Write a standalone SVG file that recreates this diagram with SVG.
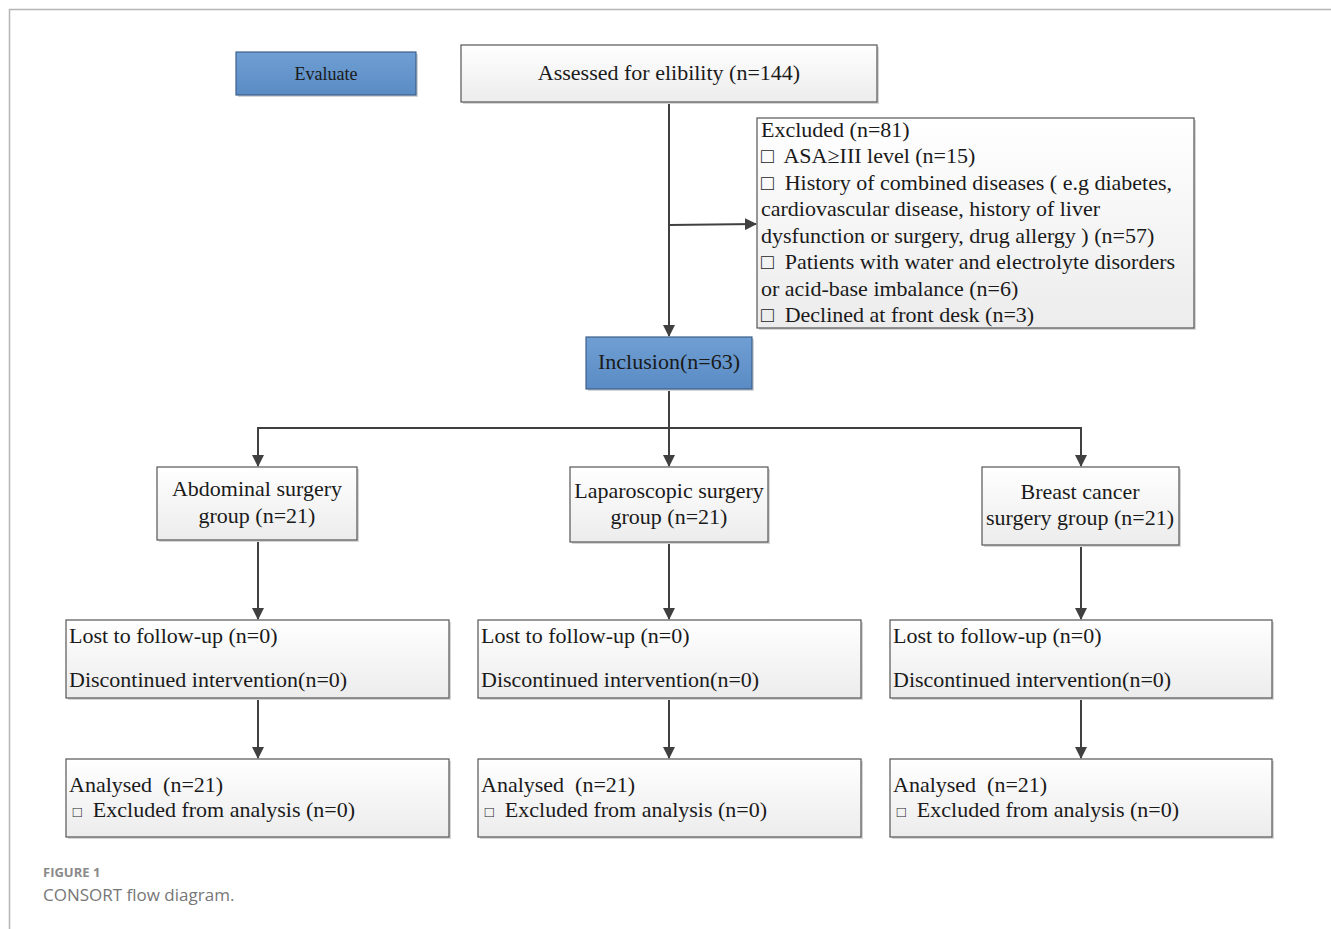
<svg xmlns="http://www.w3.org/2000/svg" width="1331" height="929" viewBox="0 0 1331 929">
<defs>
<linearGradient id="gw" x1="0" y1="0" x2="0" y2="1"><stop offset="0" stop-color="#ffffff"/><stop offset="1" stop-color="#ececec"/></linearGradient>
<linearGradient id="gb" x1="0" y1="0" x2="0" y2="1"><stop offset="0" stop-color="#6f9fd3"/><stop offset="1" stop-color="#5a8bc4"/></linearGradient>
<marker id="ah" markerWidth="12" markerHeight="12" refX="11" refY="6" orient="auto" markerUnits="userSpaceOnUse"><path d="M0,0 L12,6 L0,12 z" fill="#404040"/></marker>
</defs>
<style>
.box{fill:url(#gw);stroke:#555;stroke-width:1.2}
.blue{fill:url(#gb);stroke:#3d5f8a;stroke-width:1.2}
.sh{fill:#d6d6d6}
.t{font-family:"Liberation Serif","Times New Roman",serif;font-size:22px;fill:#1a1a1a;white-space:pre}
.c{text-anchor:middle}
.ln{stroke:#404040;stroke-width:2;fill:none}
.cap{font-family:"Open Sans","Liberation Sans",sans-serif;fill:#777}
.sq{font-size:21px}
.sq2{font-size:15px}
</style>
<rect width="1331" height="929" fill="#fff"/>
<path d="M9.5,929 V9.5 H1331" fill="none" stroke="#b5b5b5" stroke-width="1.5"/>

<g id="connectors">
<line class="ln" x1="669" y1="102" x2="669" y2="336" marker-end="url(#ah)"/>
<line class="ln" x1="669" y1="225" x2="756" y2="224" marker-end="url(#ah)"/>
<polyline class="ln" points="669,389 669,428"/>
<polyline class="ln" points="258,466 258,428 1081,428 1081,466" marker-end="url(#ah)"/>
<line class="ln" x1="258" y1="428" x2="258" y2="466" marker-end="url(#ah)"/>
<line class="ln" x1="669" y1="428" x2="669" y2="466" marker-end="url(#ah)"/>
<line class="ln" x1="258" y1="540" x2="258" y2="619" marker-end="url(#ah)"/>
<line class="ln" x1="669" y1="542" x2="669" y2="619" marker-end="url(#ah)"/>
<line class="ln" x1="1081" y1="545" x2="1081" y2="619" marker-end="url(#ah)"/>
<line class="ln" x1="258" y1="698" x2="258" y2="758" marker-end="url(#ah)"/>
<line class="ln" x1="669" y1="698" x2="669" y2="758" marker-end="url(#ah)"/>
<line class="ln" x1="1081" y1="698" x2="1081" y2="758" marker-end="url(#ah)"/>
</g>

<g id="evaluate">
<rect class="sh" x="238" y="54" width="180" height="43"/>
<rect class="blue" x="236" y="52" width="180" height="43"/>
<text class="t c" x="326" y="80" style="font-size:18px">Evaluate</text>
</g>

<g id="assessed">
<rect class="sh" x="463" y="47" width="416" height="57"/>
<rect class="box" x="461" y="45" width="416" height="57"/>
<text class="t c" x="669" y="80">Assessed for elibility (n=144)</text>
</g>

<g id="excluded">
<rect class="sh" x="759" y="120" width="437" height="210"/>
<rect class="box" x="757" y="118" width="437" height="210"/>
<text class="t" x="761" y="137">Excluded (n=81)</text>
<text class="t" x="761" y="163"><tspan class="sq">□</tspan>  ASA≥III level (n=15)</text>
<text class="t" x="761" y="190"><tspan class="sq">□</tspan>  History of combined diseases ( e.g diabetes,</text>
<text class="t" x="761" y="216">cardiovascular disease, history of liver</text>
<text class="t" x="761" y="243">dysfunction or surgery, drug allergy ) (n=57)</text>
<text class="t" x="761" y="269"><tspan class="sq">□</tspan>  Patients with water and electrolyte disorders</text>
<text class="t" x="761" y="296">or acid-base imbalance (n=6)</text>
<text class="t" x="761" y="322"><tspan class="sq">□</tspan>  Declined at front desk (n=3)</text>
</g>

<g id="inclusion">
<rect class="sh" x="588" y="339" width="166" height="52"/>
<rect class="blue" x="586" y="337" width="166" height="52"/>
<text class="t c" x="669" y="369">Inclusion(n=63)</text>
</g>

<g id="abdominal">
<rect class="sh" x="159" y="469" width="200" height="73"/>
<rect class="box" x="157" y="467" width="200" height="73"/>
<text class="t c" x="257" y="496">Abdominal surgery</text>
<text class="t c" x="257" y="523">group (n=21)</text>
</g>

<g id="laparoscopic">
<rect class="sh" x="572" y="469" width="198" height="75"/>
<rect class="box" x="570" y="467" width="198" height="75"/>
<text class="t c" x="669" y="498">Laparoscopic surgery</text>
<text class="t c" x="669" y="524">group (n=21)</text>
</g>

<g id="breast">
<rect class="sh" x="984" y="469" width="197" height="78"/>
<rect class="box" x="982" y="467" width="197" height="78"/>
<text class="t c" x="1080" y="499">Breast cancer</text>
<text class="t c" x="1080" y="525">surgery group (n=21)</text>
</g>

<g id="lost1">
<rect class="sh" x="68" y="622" width="383" height="78"/>
<rect class="box" x="66" y="620" width="383" height="78"/>
<text class="t" x="69" y="643">Lost to follow-up (n=0)</text>
<text class="t" x="69" y="687">Discontinued intervention(n=0)</text>
</g>
<g id="lost2">
<rect class="sh" x="480" y="622" width="383" height="78"/>
<rect class="box" x="478" y="620" width="383" height="78"/>
<text class="t" x="481" y="643">Lost to follow-up (n=0)</text>
<text class="t" x="481" y="687">Discontinued intervention(n=0)</text>
</g>
<g id="lost3">
<rect class="sh" x="892" y="622" width="382" height="78"/>
<rect class="box" x="890" y="620" width="382" height="78"/>
<text class="t" x="893" y="643">Lost to follow-up (n=0)</text>
<text class="t" x="893" y="687">Discontinued intervention(n=0)</text>
</g>

<g id="analysed1">
<rect class="sh" x="68" y="761" width="383" height="78"/>
<rect class="box" x="66" y="759" width="383" height="78"/>
<text class="t" x="69" y="792">Analysed  (n=21)</text>
<text class="t" x="69" y="817"><tspan class="sq2"> □</tspan>  Excluded from analysis (n=0)</text>
</g>
<g id="analysed2">
<rect class="sh" x="480" y="761" width="383" height="78"/>
<rect class="box" x="478" y="759" width="383" height="78"/>
<text class="t" x="481" y="792">Analysed  (n=21)</text>
<text class="t" x="481" y="817"><tspan class="sq2"> □</tspan>  Excluded from analysis (n=0)</text>
</g>
<g id="analysed3">
<rect class="sh" x="892" y="761" width="382" height="78"/>
<rect class="box" x="890" y="759" width="382" height="78"/>
<text class="t" x="893" y="792">Analysed  (n=21)</text>
<text class="t" x="893" y="817"><tspan class="sq2"> □</tspan>  Excluded from analysis (n=0)</text>
</g>

<g id="caption">
<text class="cap" x="43" y="877" style="font-size:13px;font-weight:bold;fill:#8a8a8a">FIGURE 1</text>
<text class="cap" x="43" y="901" style="font-size:17px">CONSORT flow diagram.</text>
</g>
</svg>
